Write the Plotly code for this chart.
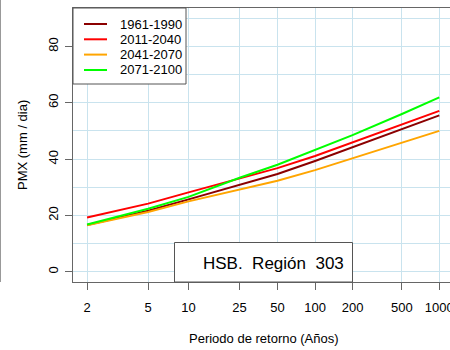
import numpy as np
import plotly.graph_objects as go

# Return periods (years) and tick labels
periods = [2, 5, 10, 25, 50, 100, 200, 500, 1000]
tick_labels = ["2", "5", "10", "25", "50", "100", "200", "500", "1000"]

# PMX (mm / dia)
s_1961_1990 = [16.6, 21.7, 25.7, 31.0, 34.7, 39.3, 44.2, 50.6, 55.5]
s_2011_2040 = [19.3, 24.2, 28.2, 33.1, 36.8, 41.1, 45.9, 52.3, 57.1]
s_2041_2070 = [16.5, 21.2, 25.0, 29.1, 32.3, 36.1, 40.3, 45.9, 50.0]
s_2071_2100 = [16.8, 22.4, 26.6, 33.4, 38.0, 43.2, 48.5, 56.0, 61.9]

series_names = ["1961-1990", "2011-2040", "2041-2070", "2071-2100"]
series_values = [s_1961_1990, s_2011_2040, s_2041_2070, s_2071_2100]
series_colors = ["#8B0000", "#FF0000", "#FFA500", "#00FF00"]

y_major = [0, 20, 40, 60, 80]
y_minor = [10, 30, 50, 70, 90]


def gumbel(T):
    T = np.asarray(T, dtype=float)
    return -np.log(-np.log(1.0 - 1.0 / T))


xg = gumbel(periods)
FONT = "Liberation Sans, Arial, sans-serif"
GRID = "#c9e3ee"
AXC = "#666666"

L, R, T_, B = 73, 0, 8, 68
W, H = 450, 350
PW, PH = W - L - R, H - T_ - B


def px(x):
    return (x - L) / PW


def py(y):
    return (H - B - y) / PH


fig = go.Figure()
for name, vals, col in zip(series_names, series_values, series_colors):
    fig.add_trace(go.Scatter(x=xg, y=vals, mode="lines", name=name,
                             line=dict(color=col, width=2), showlegend=False,
                             hoverinfo="skip"))

fig.update_layout(
    width=W, height=H,
    margin=dict(l=L, r=R, t=T_, b=B, autoexpand=False),
    paper_bgcolor="white", plot_bgcolor="white",
    font=dict(family=FONT, size=13, color="black"),
    showlegend=False,
)

fig.update_xaxes(
    range=[0.105, 7.106], tickmode="array", tickvals=xg, ticktext=tick_labels,
    showgrid=True, gridcolor=GRID, gridwidth=1, zeroline=False,
    showline=True, linecolor=AXC, linewidth=1, mirror=True,
    ticks="outside", ticklen=7, tickcolor=AXC, ticklabelstandoff=6,
    automargin=False, ticklabeloverflow="allow",
)
fig.update_yaxes(
    range=[-3.6, 93.6], tickmode="array", tickvals=y_major,
    ticktext=[str(v) for v in y_major], tickangle=-90,
    showgrid=True, gridcolor=GRID, gridwidth=1, zeroline=False,
    minor=dict(tickmode="array", tickvals=y_minor, showgrid=True,
               gridcolor=GRID, gridwidth=1, ticks=""),
    showline=True, linecolor=AXC, linewidth=1, mirror=False,
    ticks="outside", ticklen=7, tickcolor=AXC, ticklabelstandoff=2,
    automargin=False,
)

# Axis titles
fig.add_annotation(text="Periodo de retorno (Años)", xref="paper", yref="paper",
                   x=px(263.5), y=py(338), xanchor="center", yanchor="middle",
                   showarrow=False, font=dict(size=13, color="black"))
fig.add_annotation(text="PMX (mm / dia)", xref="paper", yref="paper",
                   x=px(22), y=0.5, textangle=-90,
                   xanchor="center", yanchor="middle", showarrow=False,
                   font=dict(size=13, color="black"))

# Legend box (drawn manually to match the original layout)
fig.add_shape(type="rect", xref="paper", yref="paper", layer="above",
              x0=px(73), x1=px(186), y0=py(84), y1=py(8),
              fillcolor="white", line=dict(color="#555555", width=1))
row_y = [24, 39.3, 54.6, 70]
for name, col, ry in zip(series_names, series_colors, row_y):
    fig.add_shape(type="line", xref="paper", yref="paper", layer="above",
                  x0=px(84), x1=px(107), y0=py(ry), y1=py(ry),
                  line=dict(color=col, width=2))
    fig.add_annotation(text=name, xref="paper", yref="paper",
                       x=px(118), y=py(ry), xanchor="left", yanchor="middle",
                       showarrow=False, font=dict(size=13, color="black"))

# Region label box
fig.add_shape(type="rect", xref="paper", yref="paper", layer="above",
              x0=px(174.5), x1=px(352.5), y0=py(282), y1=py(242.5),
              fillcolor="white", line=dict(color="#555555", width=1))
fig.add_annotation(text="HSB.\u00a0\u00a0Región\u00a0\u00a0303", xref="paper", yref="paper",
                   x=px(273.5), y=py(263.5), xanchor="center", yanchor="middle",
                   showarrow=False, font=dict(size=17, color="black"))

# Edge of neighbouring panel at the far left
fig.add_shape(type="line", xref="paper", yref="paper",
              x0=px(0.5), x1=px(0.5), y0=0, y1=py(0),
              line=dict(color="#999999", width=1))

fig.write_html("out.html",
               config={"displayModeBar": False},
               post_script="document.body.style.margin='0px';"
                           "document.body.style.overflow='hidden';")
